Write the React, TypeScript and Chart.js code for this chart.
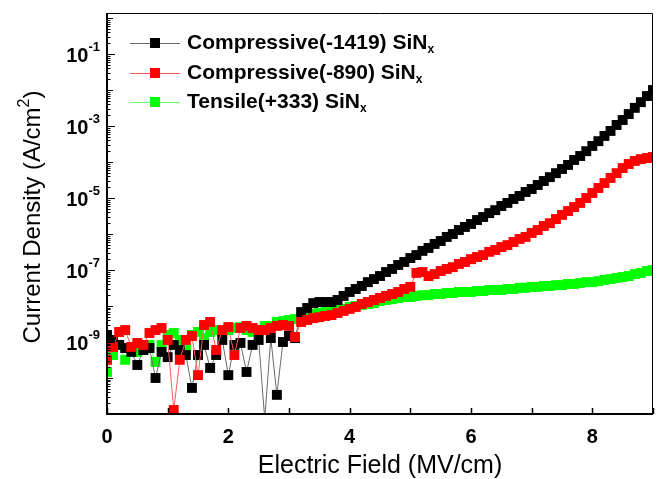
import React, { useEffect, useRef } from 'react';
import { Chart, registerables } from 'chart.js';

Chart.register(...registerables);

// Electric field (MV/cm)
const fields = [
  0, 0.1, 0.2, 0.3, 0.4, 0.5, 0.6, 0.7, 0.8, 0.9,
  1.0, 1.1, 1.2, 1.3, 1.4, 1.5, 1.6, 1.7, 1.8, 1.9,
  2.0, 2.1, 2.2, 2.3, 2.4, 2.5, 2.6, 2.7, 2.8, 2.9,
  3.0, 3.1, 3.2, 3.3, 3.4, 3.5, 3.6, 3.7, 3.8, 3.9,
  4.0, 4.1, 4.2, 4.3, 4.4, 4.5, 4.6, 4.7, 4.8, 4.9,
  5.0, 5.1, 5.2, 5.3, 5.4, 5.5, 5.6, 5.7, 5.8, 5.9,
  6.0, 6.1, 6.2, 6.3, 6.4, 6.5, 6.6, 6.7, 6.8, 6.9,
  7.0, 7.1, 7.2, 7.3, 7.4, 7.5, 7.6, 7.7, 7.8, 7.9,
  8.0, 8.1, 8.2, 8.3, 8.4, 8.5, 8.6, 8.7, 8.8, 8.9,
  9.0,
];

// Current density (A/cm^2)
const compressive1419 = [
  1.57e-9, 1.14e-9, 8.3e-10, 6.8e-10, 5.3e-10, 2.3e-10, 6.0e-10, 6.8e-10, 1.0e-10, 5.3e-10,
  3.8e-10, 8.3e-10, 6.0e-10, 4.35e-10, 5.3e-11, 4.35e-10, 8.3e-10, 1.9e-10, 4.35e-10, 1.14e-9,
  1.2e-10, 8.3e-10, 9.4e-10, 1.47e-10, 8.3e-10, 1.14e-9, 7.3e-12, 1.29e-9, 3.4e-11, 1.0e-9,
  1.47e-9, 1.29e-9, 6.8e-9, 8.8e-9, 1.2e-8, 1.29e-8, 1.29e-8, 1.29e-8, 1.47e-8, 1.9e-8,
  2.45e-8, 2.97e-8, 3.6e-8, 4.6e-8, 5.6e-8, 6.8e-8, 8.8e-8, 1.07e-7, 1.38e-7, 1.67e-7,
  2.15e-7, 2.6e-7, 3.4e-7, 4.1e-7, 5.3e-7, 6.4e-7, 8.3e-7, 1.0e-6, 1.29e-6, 1.57e-6,
  1.9e-6, 2.45e-6, 2.97e-6, 3.8e-6, 4.6e-6, 6.0e-6, 7.3e-6, 9.4e-6, 1.14e-5, 1.47e-5,
  1.78e-5, 2.3e-5, 2.97e-5, 3.8e-5, 4.9e-5, 6.4e-5, 8.3e-5, 1.14e-4, 1.47e-4, 2.0e-4,
  2.8e-4, 3.8e-4, 5.3e-4, 7.3e-4, 1.07e-3, 1.47e-3, 2.15e-3, 3.2e-3, 4.6e-3, 6.8e-3,
  1.0e-2,
];

const compressive890 = [
  3.2e-10, 7.3e-10, 1.9e-9, 2.15e-9, 7.3e-10, 9.4e-10, 8.3e-10, 1.78e-9, 2.15e-9, 2.45e-9,
  1.14e-9, 1.29e-11, 3.2e-10, 1.14e-9, 1.47e-9, 1.2e-10, 2.97e-9, 3.6e-9, 6.0e-10, 2.15e-9,
  2.6e-9, 4.35e-10, 2.45e-9, 2.8e-9, 2.45e-9, 2.15e-9, 2.15e-9, 2.45e-9, 2.8e-9, 2.97e-9,
  2.8e-9, 1.38e-9, 3.6e-9, 4.1e-9, 4.6e-9, 4.9e-9, 5.3e-9, 5.6e-9, 6.4e-9, 7.3e-9,
  8.3e-9, 9.4e-9, 1.14e-8, 1.29e-8, 1.47e-8, 1.67e-8, 1.9e-8, 2.15e-8, 2.45e-8, 2.97e-8,
  3.4e-8, 8.3e-8, 8.8e-8, 6.8e-8, 7.7e-8, 9.4e-8, 1.07e-7, 1.2e-7, 1.47e-7, 1.67e-7,
  2.0e-7, 2.3e-7, 2.6e-7, 3.2e-7, 3.6e-7, 4.35e-7, 4.9e-7, 6.0e-7, 7.3e-7, 8.3e-7,
  1.07e-6, 1.29e-6, 1.67e-6, 2.0e-6, 2.6e-6, 3.4e-6, 4.35e-6, 5.6e-6, 7.3e-6, 1.0e-5,
  1.38e-5, 1.9e-5, 2.6e-5, 3.6e-5, 4.9e-5, 6.8e-5, 8.8e-5, 1.07e-4, 1.2e-4, 1.29e-4,
  1.38e-4,
];

const tensile333 = [
  1.47e-10, 4.35e-10, 8.3e-10, 3.2e-10, 6.8e-10, 5.3e-10, 6.0e-10, 8.3e-10, 2.8e-10, 8.3e-10,
  1.57e-9, 1.78e-9, 1.14e-9, 6.0e-10, 1.57e-9, 1.9e-9, 1.29e-9, 1.9e-9, 2.15e-9, 1.78e-9,
  2.15e-9, 2.45e-9, 2.6e-9, 2.15e-9, 1.9e-9, 2.15e-9, 2.8e-9, 2.8e-9, 3.6e-9, 3.8e-9,
  4.1e-9, 4.35e-9, 4.6e-9, 5.3e-9, 6.0e-9, 6.4e-9, 6.8e-9, 7.3e-9, 7.7e-9, 8.3e-9,
  9.4e-9, 1.0e-8, 1.07e-8, 1.14e-8, 1.2e-8, 1.38e-8, 1.47e-8, 1.57e-8, 1.67e-8, 1.78e-8,
  1.78e-8, 1.9e-8, 2.0e-8, 2.0e-8, 2.15e-8, 2.15e-8, 2.3e-8, 2.3e-8, 2.45e-8, 2.45e-8,
  2.45e-8, 2.6e-8, 2.6e-8, 2.8e-8, 2.8e-8, 2.8e-8, 2.97e-8, 2.97e-8, 3.2e-8, 3.2e-8,
  3.4e-8, 3.4e-8, 3.6e-8, 3.6e-8, 3.8e-8, 3.8e-8, 4.1e-8, 4.1e-8, 4.35e-8, 4.6e-8,
  4.6e-8, 4.9e-8, 5.3e-8, 5.6e-8, 6.0e-8, 6.4e-8, 6.8e-8, 7.7e-8, 8.3e-8, 9.4e-8,
  1.0e-7,
];

const seriesNames = ['Compressive(-1419) SiN', 'Compressive(-890) SiN', 'Tensile(+333) SiN'];
const seriesSubscript = 'x';
const xTickValues = [0, 2, 4, 6, 8];
const xTickLabels = ['0', '2', '4', '6', '8'];
const xMinorTickValues = [1, 3, 5, 7, 9];
const yLabelExponents = [-1, -3, -5, -7, -9];
const xTitle = 'Electric Field (MV/cm)';
const yTitleMain = 'Current Density (A/cm';
const yTitleSup = '2';
const yTitleEnd = ')';

const FONT = '"Liberation Sans", Arial, Helvetica, sans-serif';

const markerColors = ['#000000', '#ff0000', '#00ff00'];
const lineColors = ['#6a6a6a', '#ff5a5a', '#66ff66'];

const decoPlugin = {
  id: 'deco',
  afterDatasetsDraw(chart: any) {
    const { ctx, chartArea: a, scales } = chart;
    const xs = scales.x;
    const ys = scales.y;
    ctx.save();

    // frame
    ctx.strokeStyle = '#000';
    ctx.lineWidth = 1;
    ctx.beginPath();
    ctx.moveTo(a.left, a.top + 0.5);
    ctx.lineTo(a.right - 0.5, a.top + 0.5);
    ctx.lineTo(a.right - 0.5, a.bottom);
    ctx.stroke();
    ctx.lineWidth = 2;
    ctx.beginPath();
    ctx.moveTo(a.left, a.top);
    ctx.lineTo(a.left, a.bottom);
    ctx.lineTo(a.right, a.bottom);
    ctx.stroke();

    // x ticks (inward)
    ctx.lineWidth = 1.5;
    ctx.beginPath();
    [...xTickValues, ...xMinorTickValues].forEach((v) => {
      const px = Math.round(xs.getPixelForValue(v)) + 0.5;
      ctx.moveTo(px, a.bottom);
      ctx.lineTo(px, a.bottom - 6);
    });
    ctx.stroke();

    // y ticks (inward)
    const yMin = ys.min;
    const yMax = ys.max;
    ctx.beginPath();
    for (let k = -12; k <= 0; k++) {
      for (let m = 1; m <= 9; m++) {
        const v = m * Math.pow(10, k);
        if (v < yMin * 0.9999 || v > yMax) continue;
        const py = Math.round(ys.getPixelForValue(v)) + 0.5;
        let len = 3.5;
        if (m === 1) len = yLabelExponents.includes(k) ? 8 : 6;
        ctx.moveTo(a.left, py);
        ctx.lineTo(a.left + len, py);
      }
    }
    ctx.lineWidth = 1.2;
    ctx.stroke();

    // x tick labels
    ctx.fillStyle = '#000';
    ctx.font = `bold 20px ${FONT}`;
    ctx.textAlign = 'center';
    ctx.textBaseline = 'middle';
    xTickValues.forEach((v, i) => {
      ctx.fillText(xTickLabels[i], xs.getPixelForValue(v), 437);
    });

    // y tick labels with superscript
    yLabelExponents.forEach((e) => {
      const py = ys.getPixelForValue(Math.pow(10, e));
      const sup = String(e);
      ctx.font = `bold 13px ${FONT}`;
      const wSup = ctx.measureText(sup).width;
      const right = 100;
      ctx.textAlign = 'left';
      ctx.fillText(sup, right - wSup, py - 7);
      ctx.font = `bold 20px ${FONT}`;
      ctx.textAlign = 'right';
      ctx.fillText('10', right - wSup, py + 2);
    });

    // x title
    ctx.font = `25px ${FONT}`;
    ctx.textAlign = 'center';
    ctx.fillText(xTitle, (a.left + a.right) / 2, 466);

    // y title (rotated) with superscript
    ctx.save();
    ctx.translate(33, 217);
    ctx.rotate(-Math.PI / 2);
    ctx.font = `24px ${FONT}`;
    const w1 = ctx.measureText(yTitleMain).width;
    const w3 = ctx.measureText(yTitleEnd).width;
    ctx.font = `16px ${FONT}`;
    const w2 = ctx.measureText(yTitleSup).width;
    const total = w1 + w2 + w3;
    let x0 = -total / 2;
    ctx.textAlign = 'left';
    ctx.font = `24px ${FONT}`;
    ctx.fillText(yTitleMain, x0, 0);
    x0 += w1;
    ctx.font = `16px ${FONT}`;
    ctx.fillText(yTitleSup, x0, -8);
    x0 += w2;
    ctx.font = `24px ${FONT}`;
    ctx.fillText(yTitleEnd, x0, 0);
    ctx.restore();

    // legend
    const rows = [43, 73, 102];
    seriesNames.forEach((name, i) => {
      const y = rows[i];
      ctx.strokeStyle = lineColors[i];
      ctx.lineWidth = 1;
      ctx.beginPath();
      ctx.moveTo(130, y + 0.5);
      ctx.lineTo(180, y + 0.5);
      ctx.stroke();
      ctx.fillStyle = markerColors[i];
      ctx.fillRect(150, y - 5, 10, 10);
      ctx.fillStyle = '#000';
      ctx.font = `bold 21px ${FONT}`;
      ctx.textAlign = 'left';
      ctx.textBaseline = 'middle';
      ctx.fillText(name, 187, y);
      const w = ctx.measureText(name).width;
      ctx.font = `bold 12px ${FONT}`;
      ctx.fillText(seriesSubscript, 187 + w, y + 7);
    });

    ctx.restore();
  },
};

export default function App() {
  const canvasRef = useRef<HTMLCanvasElement | null>(null);

  useEffect(() => {
    document.body.style.margin = '0';
    const canvas = canvasRef.current;
    if (!canvas) return;
    const series = [compressive1419, compressive890, tensile333];
    const orders = [1, 0, 2];
    const datasets = series.map((vals, i) => ({
      label: seriesNames[i],
      data: fields.map((x, j) => ({ x, y: vals[j] })),
      showLine: true,
      borderColor: lineColors[i],
      borderWidth: 1,
      pointStyle: 'rect',
      pointRadius: 7,
      pointHoverRadius: 7,
      pointBackgroundColor: markerColors[i],
      pointBorderWidth: 0,
      tension: 0,
      order: orders[i],
    }));
    const chart = new Chart(canvas, {
      type: 'scatter',
      data: { datasets },
      options: {
        animation: false,
        responsive: false,
        devicePixelRatio: 1,
        layout: { padding: { left: 107, top: 13, right: 13, bottom: 65 } },
        plugins: { legend: { display: false }, tooltip: { enabled: false } },
        events: [],
        scales: {
          x: { type: 'linear', min: 0, max: 9, display: false },
          y: { type: 'logarithmic', min: 1e-11, max: 1.38, display: false },
        },
      },
      plugins: [decoPlugin],
    } as any);
    return () => chart.destroy();
  }, []);

  return (
    <div style={{ width: 666, height: 479, background: '#fff' }}>
      <canvas ref={canvasRef} width={666} height={479} style={{ display: 'block' }} />
    </div>
  );
}
